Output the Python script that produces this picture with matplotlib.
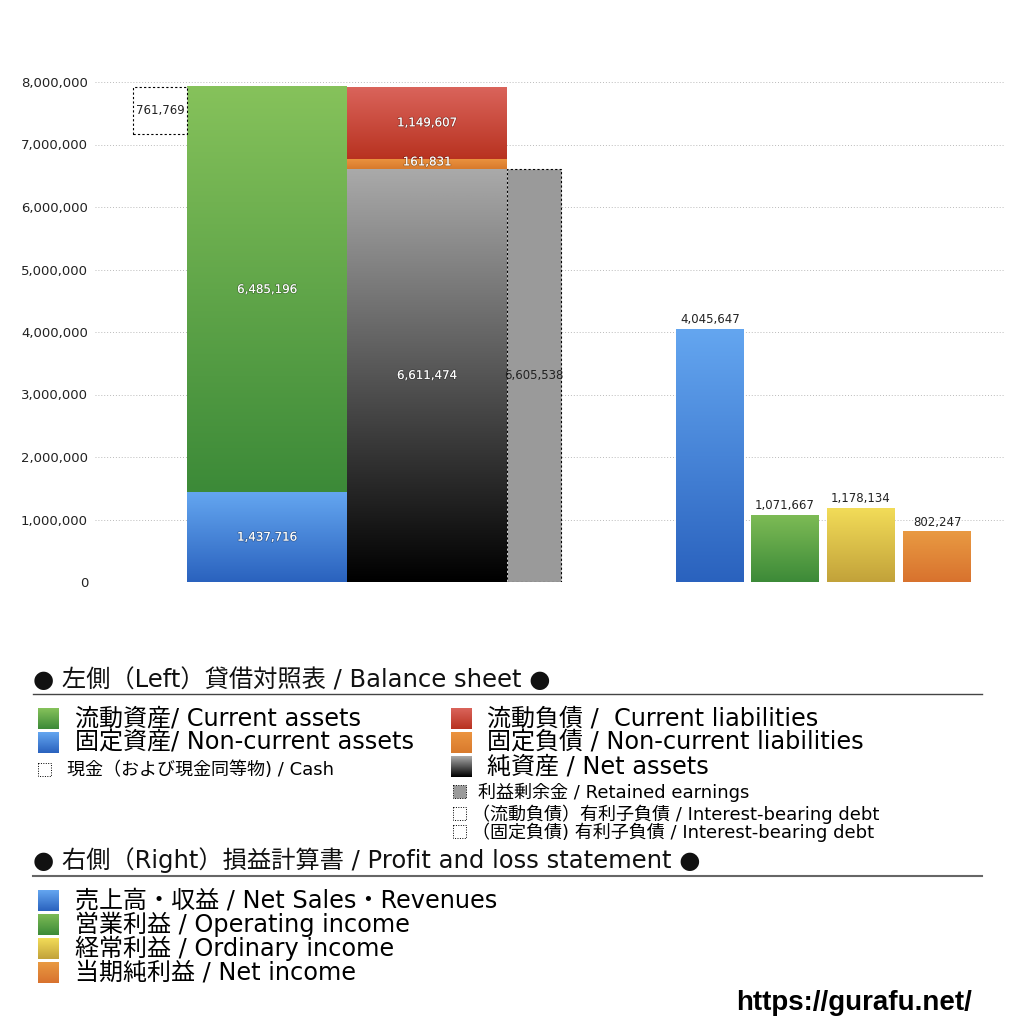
import numpy as np
import matplotlib.pyplot as plt
import matplotlib.patheffects as pe
from matplotlib.colors import LinearSegmentedColormap
from matplotlib.patches import Rectangle

plt.rcParams['font.family'] = ['DejaVu Sans', 'Noto Sans CJK JP']

# balance sheet (left)
current_assets = 6485196
noncurrent_assets = 1437716
cash = 761769
current_liab = 1149607
noncurrent_liab = 161831
net_assets = 6611474
retained = 6605538
# profit and loss (right)
pl_labels = ['売上高・収益', '営業利益', '経常利益', '当期純利益']
pl_en = ['Net Sales・Revenues', 'Operating income', 'Ordinary income', 'Net income']
pl_values = [4045647, 1071667, 1178134, 802247]
pl_top = ['#64a6f0', '#7dbb55', '#f2dc58', '#e99a42']
pl_bot = ['#2a62be', '#3c8a38', '#c2a23a', '#d8722e']

W, H = 1024, 1024
fig = plt.figure(figsize=(W / 100, H / 100), dpi=100)
ax = fig.add_axes([95 / W, 1 - 582 / H, 910 / W, 500 / H])


def grad(axis, x0, w, y0, h, c_top, c_bot, z=2):
    cmap = LinearSegmentedColormap.from_list('g', [c_bot, c_top])
    img = np.linspace(0, 1, 256).reshape(-1, 1)
    axis.imshow(img, cmap=cmap, extent=[x0, x0 + w, y0, y0 + h],
                origin='lower', aspect='auto', zorder=z)


shadow = [pe.withStroke(linewidth=1.2, foreground=(0, 0, 0, 0.25))]
lab_fs = 8.5


def inner_label(x, y, v, color='white', fx=shadow):
    ax.text(x, y, f'{v:,}', ha='center', va='center', fontsize=lab_fs,
            color=color, path_effects=fx, zorder=5)


total = current_assets + noncurrent_assets

# assets column
grad(ax, 9.2, 16, 0, noncurrent_assets, '#64a6f0', '#2a62be')
grad(ax, 9.2, 16, noncurrent_assets, current_assets, '#86c25b', '#3c8a38')
inner_label(17.2, noncurrent_assets / 2, noncurrent_assets)
inner_label(17.2, noncurrent_assets + current_assets / 2, current_assets)

# cash box
ax.add_patch(Rectangle((3.8, total - cash), 5.4, cash, facecolor='white',
                       edgecolor='black', linestyle=(0, (2, 2)), lw=0.8, zorder=3))
inner_label(6.5, total - cash / 2, cash, color='#222222', fx=[])

# liabilities / net assets column
grad(ax, 25.2, 16, 0, net_assets, '#aaaaaa', '#000000')
grad(ax, 25.2, 16, net_assets, noncurrent_liab, '#ec9440', '#d87a2c')
grad(ax, 25.2, 16, net_assets + noncurrent_liab, current_liab, '#da645b', '#b83220')
inner_label(33.2, net_assets / 2, net_assets)
inner_label(33.2, net_assets + noncurrent_liab * 0.5 + 30000, noncurrent_liab)
inner_label(33.2, net_assets + noncurrent_liab + current_liab * 0.5, current_liab)

# retained earnings
ax.bar(43.9, retained, width=5.4, color='#9a9a9a', edgecolor='black',
       linestyle=(0, (2, 2)), lw=0.8, zorder=3)
inner_label(43.9, retained / 2, retained, color='#222222', fx=[])

# profit and loss bars
pl_x = [58.1, 65.6, 73.2, 80.8]
for x0, v, ct, cb in zip(pl_x, pl_values, pl_top, pl_bot):
    grad(ax, x0, 6.8, 0, v, ct, cb)
    ax.text(x0 + 3.4, v + 50000, f'{v:,}', ha='center', va='bottom',
            fontsize=lab_fs, color='#222222', zorder=5)

ax.set_xlim(0, 91)
ax.set_ylim(0, 8000000)
ticks = np.arange(0, 8000001, 1000000)
ax.set_yticks(ticks)
ax.set_yticklabels([f'{int(t):,}' for t in ticks], fontsize=9.5, color='#222222')
ax.tick_params(axis='y', length=0, pad=5)
ax.set_xticks([])
ax.grid(axis='y', color='#bbbbbb', linestyle=(0, (1, 2)), lw=0.7, zorder=0)
ax.set_axisbelow(True)
for s in ax.spines.values():
    s.set_visible(False)

# legend area, in pixel coordinates
lg = fig.add_axes([0, 0, 1, 1], zorder=-1)
lg.set_xlim(0, W)
lg.set_ylim(H, 0)
lg.axis('off')


def lgrad(x0, y0, s, ct, cb):
    cmap = LinearSegmentedColormap.from_list('g', [cb, ct])
    img = np.linspace(0, 1, 64).reshape(-1, 1)
    lg.imshow(img, cmap=cmap, extent=[x0, x0 + s, y0 + s, y0],
              origin='lower', aspect='auto')


def lbox(x0, y0, s, fc='white'):
    lg.add_patch(Rectangle((x0, y0), s, s, facecolor=fc, edgecolor='black',
                           linestyle=(0, (1, 1.5)), lw=0.7))


head = 17.5
big = 17.3
small = 13

lg.text(33, 680, '● 左側（Left）貸借対照表 / Balance sheet ●', fontsize=head,
        va='center', color='#111111')
lg.plot([33, 982], [694, 694], color='#444444', lw=1)

lgrad(38, 708, 21, '#86c25b', '#3c8a38')
lg.text(75, 718, '流動資産/ Current assets', fontsize=big, va='center')
lgrad(38, 732, 21, '#64a6f0', '#2a62be')
lg.text(75, 742, '固定資産/ Non-current assets', fontsize=big, va='center')
lbox(38, 763, 13)
lg.text(67, 770, '現金（および現金同等物) / Cash', fontsize=small, va='center')

lgrad(451, 708, 21, '#da645b', '#b83220')
lg.text(487, 718, '流動負債 /  Current liabilities', fontsize=big, va='center')
lgrad(451, 732, 21, '#ec9440', '#d87a2c')
lg.text(487, 742, '固定負債 / Non-current liabilities', fontsize=big, va='center')
lgrad(451, 756, 21, '#aaaaaa', '#000000')
lg.text(487, 766, '純資産 / Net assets', fontsize=big, va='center')
lbox(453, 785, 13, fc='#9a9a9a')
lg.text(478, 792, '利益剰余金 / Retained earnings', fontsize=small, va='center')
lbox(453, 807, 13)
lg.text(472, 814, '（流動負債）有利子負債 / Interest-bearing debt', fontsize=small, va='center')
lbox(453, 825, 13)
lg.text(472, 832, '（固定負債) 有利子負債 / Interest-bearing debt', fontsize=small, va='center')

lg.text(33, 860, '● 右側（Right）損益計算書 / Profit and loss statement ●', fontsize=head,
        va='center', color='#111111')
lg.plot([33, 982], [876, 876], color='#666666', lw=1.5)

for i, (jp, en, ct, cb) in enumerate(zip(pl_labels, pl_en, pl_top, pl_bot)):
    y = 900 + i * 24
    lgrad(38, y - 10, 21, ct, cb)
    lg.text(75, y, f'{jp} / {en}', fontsize=big, va='center')

lg.text(972, 1003, 'https://gurafu.net/', fontsize=20, fontweight='bold',
        family='Liberation Sans', ha='right', va='center')

fig.savefig('out.png', dpi=100)
